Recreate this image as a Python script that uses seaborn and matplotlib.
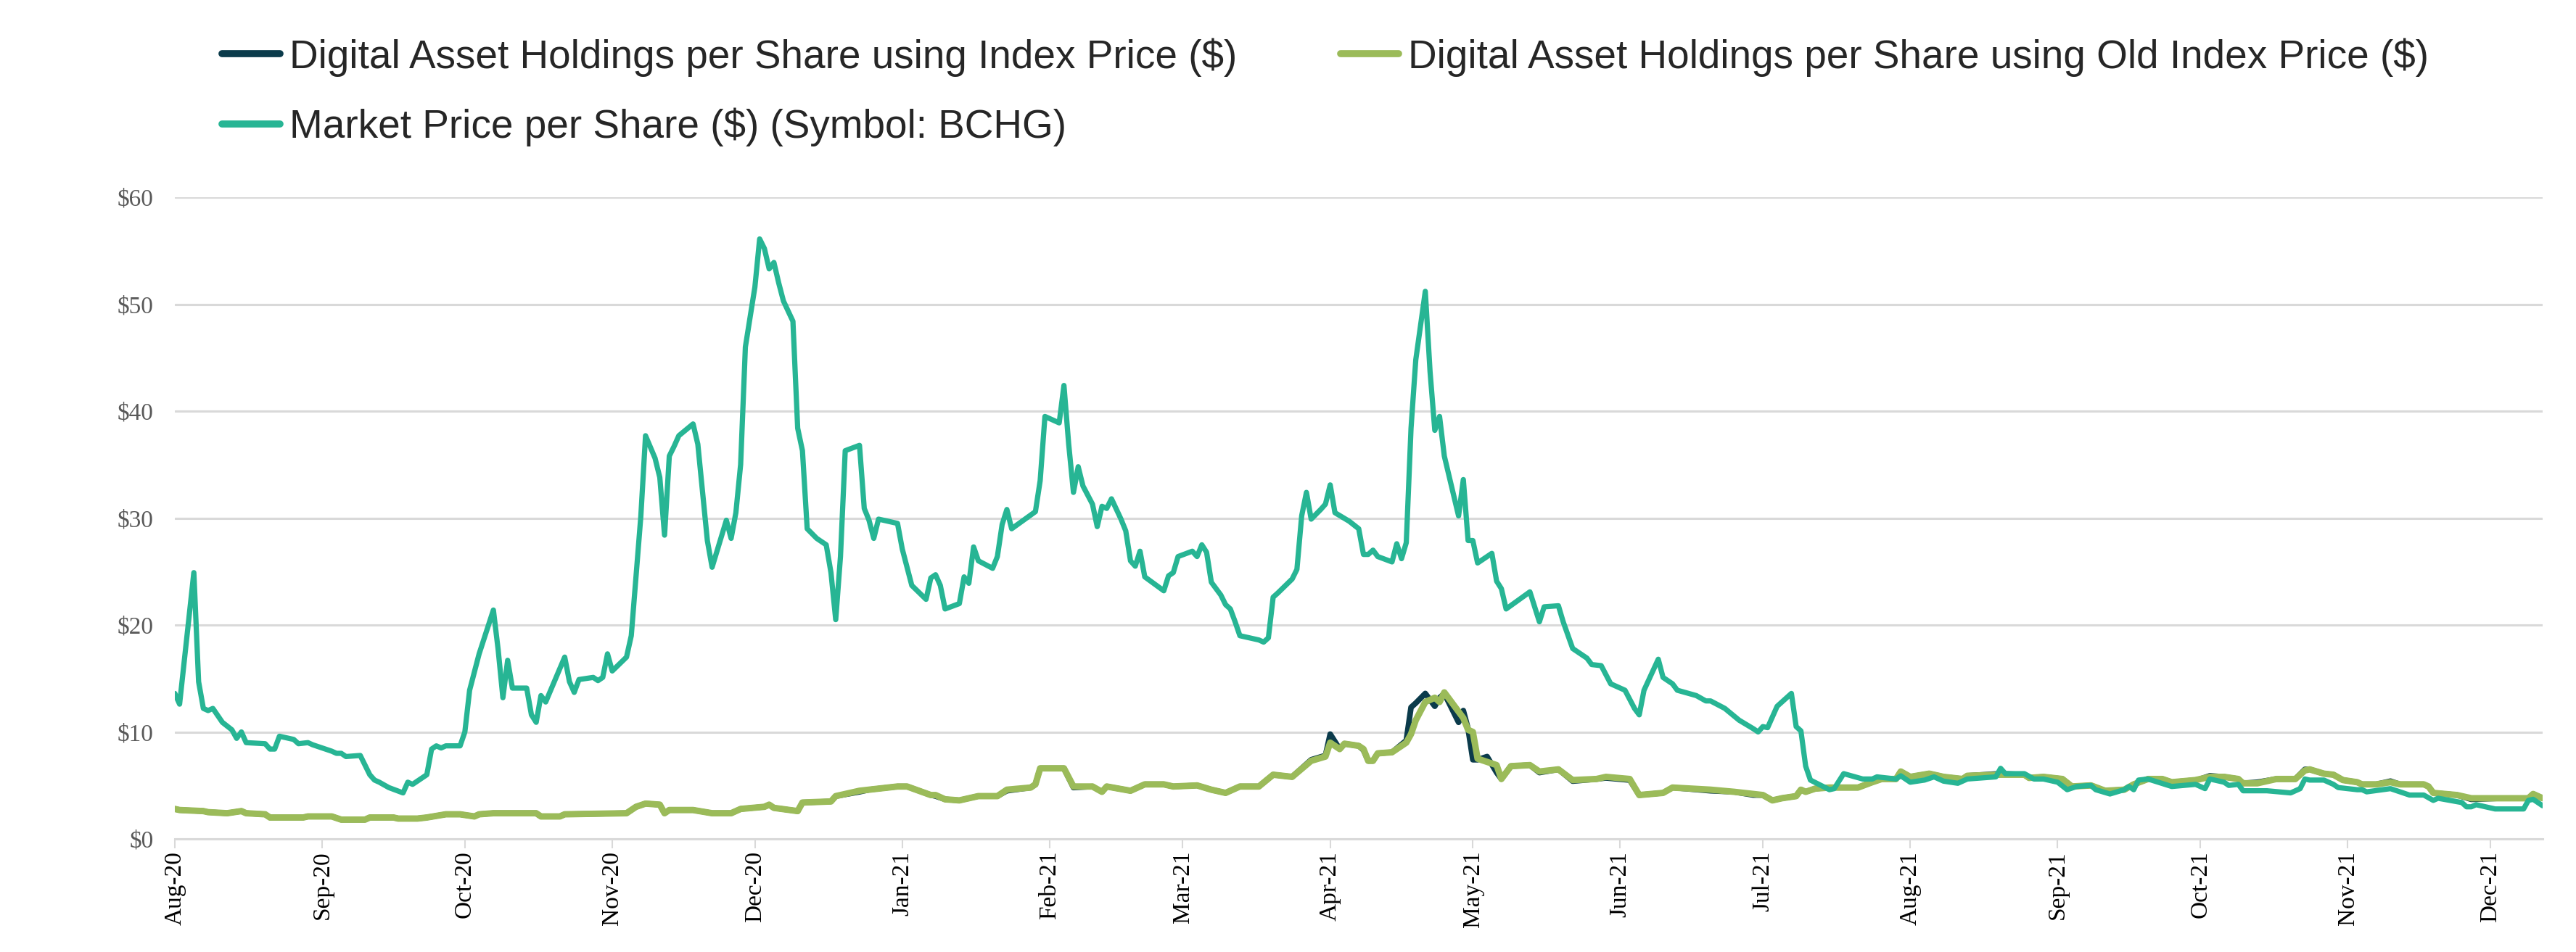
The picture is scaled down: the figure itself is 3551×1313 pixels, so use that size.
import matplotlib

matplotlib.use("Agg")
import matplotlib.dates as mdates  # noqa: E402
import matplotlib.pyplot as plt  # noqa: E402
import pandas as pd  # noqa: E402
import seaborn as sns  # noqa: E402
from matplotlib.ticker import FuncFormatter, MultipleLocator  # noqa: E402

# ---- data (date, $ per share) ------------------------------------------------
market_price = [
    ("2020-08-01", 13.6), ("2020-08-02", 12.6), ("2020-08-05", 24.9), ("2020-08-06", 14.7),
    ("2020-08-07", 12.2), ("2020-08-08", 12.0), ("2020-08-09", 12.2), ("2020-08-11", 10.9),
    ("2020-08-13", 10.2), ("2020-08-14", 9.4), ("2020-08-15", 10.0), ("2020-08-16", 9.0),
    ("2020-08-20", 8.9), ("2020-08-21", 8.4), ("2020-08-22", 8.4), ("2020-08-23", 9.6),
    ("2020-08-26", 9.3), ("2020-08-27", 8.9), ("2020-08-29", 9.0), ("2020-08-30", 8.8),
    ("2020-09-03", 8.2), ("2020-09-04", 8.0), ("2020-09-05", 8.0), ("2020-09-06", 7.7),
    ("2020-09-09", 7.8), ("2020-09-11", 6.0), ("2020-09-12", 5.5), ("2020-09-13", 5.3),
    ("2020-09-15", 4.8), ("2020-09-18", 4.3), ("2020-09-19", 5.3), ("2020-09-20", 5.1),
    ("2020-09-23", 6.0), ("2020-09-24", 8.4), ("2020-09-25", 8.7), ("2020-09-26", 8.5),
    ("2020-09-27", 8.7), ("2020-09-30", 8.7), ("2020-10-01", 10.0), ("2020-10-02", 13.9),
    ("2020-10-04", 17.3), ("2020-10-07", 21.4), ("2020-10-08", 17.7), ("2020-10-09", 13.2),
    ("2020-10-10", 16.7), ("2020-10-11", 14.1), ("2020-10-14", 14.1), ("2020-10-15", 11.6),
    ("2020-10-16", 10.9), ("2020-10-17", 13.4), ("2020-10-18", 12.8), ("2020-10-22", 17.0),
    ("2020-10-23", 14.7), ("2020-10-24", 13.7), ("2020-10-25", 14.9), ("2020-10-28", 15.1),
    ("2020-10-29", 14.8), ("2020-10-30", 15.1), ("2020-10-31", 17.3), ("2020-11-01", 15.7),
    ("2020-11-04", 17.0), ("2020-11-05", 19.0), ("2020-11-07", 30.1), ("2020-11-08", 37.7),
    ("2020-11-10", 35.6), ("2020-11-11", 33.8), ("2020-11-12", 28.4), ("2020-11-13", 35.8),
    ("2020-11-14", 36.7), ("2020-11-15", 37.7), ("2020-11-18", 38.8), ("2020-11-19", 36.9),
    ("2020-11-20", 32.4), ("2020-11-21", 27.9), ("2020-11-22", 25.4), ("2020-11-25", 29.8),
    ("2020-11-26", 28.1), ("2020-11-27", 30.5), ("2020-11-28", 35.0), ("2020-11-29", 46.0),
    ("2020-12-01", 51.6), ("2020-12-02", 56.1), ("2020-12-03", 55.2), ("2020-12-04", 53.3),
    ("2020-12-05", 53.9), ("2020-12-06", 52.0), ("2020-12-07", 50.3), ("2020-12-09", 48.4),
    ("2020-12-10", 38.4), ("2020-12-11", 36.3), ("2020-12-12", 29.0), ("2020-12-14", 28.1),
    ("2020-12-16", 27.5), ("2020-12-17", 24.9), ("2020-12-18", 20.5), ("2020-12-19", 26.4),
    ("2020-12-20", 36.3), ("2020-12-23", 36.8), ("2020-12-24", 30.9), ("2020-12-25", 29.8),
    ("2020-12-26", 28.1), ("2020-12-27", 29.9), ("2020-12-31", 29.5), ("2021-01-01", 27.1),
    ("2021-01-03", 23.7), ("2021-01-06", 22.4), ("2021-01-07", 24.4), ("2021-01-08", 24.7),
    ("2021-01-09", 23.7), ("2021-01-10", 21.5), ("2021-01-13", 22.0), ("2021-01-14", 24.5),
    ("2021-01-15", 23.9), ("2021-01-16", 27.3), ("2021-01-17", 26.0), ("2021-01-20", 25.3),
    ("2021-01-21", 26.4), ("2021-01-22", 29.4), ("2021-01-23", 30.8), ("2021-01-24", 29.0),
    ("2021-01-29", 30.6), ("2021-01-30", 33.5), ("2021-01-31", 39.5), ("2021-02-03", 38.9),
    ("2021-02-04", 42.4), ("2021-02-05", 36.9), ("2021-02-06", 32.4), ("2021-02-07", 34.8),
    ("2021-02-08", 33.0), ("2021-02-10", 31.3), ("2021-02-11", 29.2), ("2021-02-12", 31.1),
    ("2021-02-13", 30.9), ("2021-02-14", 31.8), ("2021-02-16", 29.9), ("2021-02-17", 28.8),
    ("2021-02-18", 26.0), ("2021-02-19", 25.5), ("2021-02-20", 26.9), ("2021-02-21", 24.5),
    ("2021-02-25", 23.2), ("2021-02-26", 24.6), ("2021-02-27", 24.9), ("2021-02-28", 26.4),
    ("2021-03-03", 26.9), ("2021-03-04", 26.4), ("2021-03-05", 27.5), ("2021-03-06", 26.8),
    ("2021-03-07", 24.0), ("2021-03-09", 22.8), ("2021-03-10", 21.9), ("2021-03-11", 21.5),
    ("2021-03-12", 20.3), ("2021-03-13", 19.0), ("2021-03-17", 18.6), ("2021-03-18", 18.4),
    ("2021-03-19", 18.8), ("2021-03-20", 22.6), ("2021-03-21", 23.0), ("2021-03-24", 24.3),
    ("2021-03-25", 25.2), ("2021-03-26", 30.2), ("2021-03-27", 32.4), ("2021-03-28", 29.9),
    ("2021-03-30", 30.8), ("2021-03-31", 31.3), ("2021-04-01", 33.1), ("2021-04-02", 30.5),
    ("2021-04-05", 29.7), ("2021-04-07", 29.0), ("2021-04-08", 26.6), ("2021-04-09", 26.6),
    ("2021-04-10", 27.0), ("2021-04-11", 26.4), ("2021-04-14", 25.9), ("2021-04-15", 27.6),
    ("2021-04-16", 26.2), ("2021-04-17", 27.7), ("2021-04-18", 38.4), ("2021-04-19", 44.8),
    ("2021-04-21", 51.2), ("2021-04-22", 43.7), ("2021-04-23", 38.2), ("2021-04-24", 39.5),
    ("2021-04-25", 35.8), ("2021-04-28", 30.2), ("2021-04-29", 33.6), ("2021-04-30", 27.9),
    ("2021-05-01", 27.9), ("2021-05-02", 25.8), ("2021-05-05", 26.7), ("2021-05-06", 24.1),
    ("2021-05-07", 23.4), ("2021-05-08", 21.5), ("2021-05-13", 23.1), ("2021-05-15", 20.3),
    ("2021-05-16", 21.7), ("2021-05-19", 21.8), ("2021-05-20", 20.3), ("2021-05-22", 17.8),
    ("2021-05-25", 16.9), ("2021-05-26", 16.3), ("2021-05-28", 16.2), ("2021-05-30", 14.5),
    ("2021-06-02", 13.9), ("2021-06-04", 12.2), ("2021-06-05", 11.6), ("2021-06-06", 13.9),
    ("2021-06-09", 16.8), ("2021-06-10", 15.1), ("2021-06-12", 14.5), ("2021-06-13", 13.9),
    ("2021-06-17", 13.4), ("2021-06-19", 12.9), ("2021-06-20", 12.9), ("2021-06-23", 12.2),
    ("2021-06-26", 11.1), ("2021-06-29", 10.3), ("2021-06-30", 10.0), ("2021-07-01", 10.5),
    ("2021-07-02", 10.4), ("2021-07-04", 12.4), ("2021-07-07", 13.6), ("2021-07-08", 10.5),
    ("2021-07-09", 10.1), ("2021-07-10", 6.8), ("2021-07-11", 5.5), ("2021-07-15", 4.6),
    ("2021-07-16", 4.7), ("2021-07-18", 6.1), ("2021-07-22", 5.6), ("2021-07-24", 5.6),
    ("2021-07-25", 5.8), ("2021-07-29", 5.6), ("2021-07-30", 5.9), ("2021-08-01", 5.3),
    ("2021-08-04", 5.5), ("2021-08-06", 5.8), ("2021-08-08", 5.4), ("2021-08-11", 5.2),
    ("2021-08-13", 5.6), ("2021-08-19", 5.8), ("2021-08-20", 6.6), ("2021-08-21", 6.1),
    ("2021-08-25", 6.1), ("2021-08-27", 5.6), ("2021-08-29", 5.6), ("2021-09-01", 5.3),
    ("2021-09-03", 4.6), ("2021-09-05", 4.9), ("2021-09-08", 5.0), ("2021-09-09", 4.6),
    ("2021-09-12", 4.2), ("2021-09-15", 4.6), ("2021-09-16", 4.9), ("2021-09-17", 4.6),
    ("2021-09-18", 5.5), ("2021-09-20", 5.6), ("2021-09-25", 4.9), ("2021-09-30", 5.1),
    ("2021-10-02", 4.7), ("2021-10-03", 5.6), ("2021-10-06", 5.3), ("2021-10-07", 5.0),
    ("2021-10-09", 5.1), ("2021-10-10", 4.5), ("2021-10-15", 4.5), ("2021-10-20", 4.3),
    ("2021-10-22", 4.7), ("2021-10-23", 5.6), ("2021-10-24", 5.5), ("2021-10-27", 5.5),
    ("2021-10-29", 5.1), ("2021-10-30", 4.8), ("2021-11-03", 4.6), ("2021-11-04", 4.6),
    ("2021-11-05", 4.4), ("2021-11-10", 4.7), ("2021-11-14", 4.1), ("2021-11-17", 4.1),
    ("2021-11-19", 3.6), ("2021-11-20", 3.8), ("2021-11-25", 3.4), ("2021-11-26", 3.0),
    ("2021-11-27", 3.0), ("2021-11-28", 3.2), ("2021-12-02", 2.8), ("2021-12-08", 2.8),
    ("2021-12-09", 3.6), ("2021-12-10", 3.7), ("2021-12-12", 3.1),
]

old_index_nav = [
    ("2020-08-01", 2.8), ("2020-08-02", 2.7), ("2020-08-07", 2.6), ("2020-08-08", 2.5),
    ("2020-08-12", 2.4), ("2020-08-15", 2.6), ("2020-08-16", 2.4), ("2020-08-20", 2.3),
    ("2020-08-21", 2.0), ("2020-08-28", 2.0), ("2020-08-29", 2.1), ("2020-09-03", 2.1),
    ("2020-09-05", 1.8), ("2020-09-10", 1.8), ("2020-09-11", 2.0), ("2020-09-16", 2.0),
    ("2020-09-17", 1.9), ("2020-09-21", 1.9), ("2020-09-23", 2.0), ("2020-09-27", 2.3),
    ("2020-09-30", 2.3), ("2020-10-03", 2.1), ("2020-10-04", 2.3), ("2020-10-07", 2.4),
    ("2020-10-16", 2.4), ("2020-10-17", 2.1), ("2020-10-21", 2.1), ("2020-10-22", 2.3),
    ("2020-11-04", 2.4), ("2020-11-06", 3.0), ("2020-11-08", 3.3), ("2020-11-11", 3.2),
    ("2020-11-12", 2.4), ("2020-11-13", 2.7), ("2020-11-18", 2.7), ("2020-11-22", 2.4),
    ("2020-11-26", 2.4), ("2020-11-28", 2.8), ("2020-12-03", 3.0), ("2020-12-04", 3.2),
    ("2020-12-05", 2.9), ("2020-12-10", 2.6), ("2020-12-11", 3.4), ("2020-12-17", 3.5),
    ("2020-12-18", 4.0), ("2020-12-23", 4.5), ("2020-12-25", 4.6), ("2020-12-31", 4.9),
    ("2021-01-02", 4.9), ("2021-01-07", 4.1), ("2021-01-08", 4.1), ("2021-01-10", 3.7),
    ("2021-01-13", 3.6), ("2021-01-17", 4.0), ("2021-01-21", 4.0), ("2021-01-23", 4.6),
    ("2021-01-28", 4.8), ("2021-01-29", 5.1), ("2021-01-30", 6.6), ("2021-02-04", 6.6),
    ("2021-02-06", 4.9), ("2021-02-10", 4.9), ("2021-02-12", 4.4), ("2021-02-13", 4.9),
    ("2021-02-18", 4.5), ("2021-02-21", 5.1), ("2021-02-25", 5.1), ("2021-02-27", 4.9),
    ("2021-03-04", 5.0), ("2021-03-07", 4.6), ("2021-03-10", 4.3), ("2021-03-13", 4.9),
    ("2021-03-17", 4.9), ("2021-03-20", 6.0), ("2021-03-24", 5.8), ("2021-03-28", 7.3),
    ("2021-03-31", 7.7), ("2021-04-01", 9.0), ("2021-04-03", 8.4), ("2021-04-04", 8.9),
    ("2021-04-07", 8.7), ("2021-04-08", 8.4), ("2021-04-09", 7.3), ("2021-04-10", 7.3),
    ("2021-04-11", 8.0), ("2021-04-14", 8.1), ("2021-04-17", 9.0), ("2021-04-18", 9.8),
    ("2021-04-19", 11.1), ("2021-04-21", 12.8), ("2021-04-23", 13.2), ("2021-04-24", 12.8),
    ("2021-04-25", 13.7), ("2021-04-29", 11.3), ("2021-04-30", 10.2), ("2021-05-01", 10.0),
    ("2021-05-02", 7.5), ("2021-05-06", 6.9), ("2021-05-07", 5.6), ("2021-05-09", 6.8),
    ("2021-05-13", 6.9), ("2021-05-15", 6.3), ("2021-05-19", 6.5), ("2021-05-22", 5.5),
    ("2021-05-27", 5.6), ("2021-05-29", 5.8), ("2021-06-03", 5.6), ("2021-06-05", 4.1),
    ("2021-06-10", 4.3), ("2021-06-12", 4.8), ("2021-06-20", 4.6), ("2021-06-25", 4.4),
    ("2021-06-29", 4.2), ("2021-07-01", 4.1), ("2021-07-03", 3.6), ("2021-07-05", 3.8),
    ("2021-07-08", 4.0), ("2021-07-09", 4.6), ("2021-07-10", 4.4), ("2021-07-12", 4.7),
    ("2021-07-15", 4.8), ("2021-07-21", 4.8), ("2021-07-24", 5.3), ("2021-07-26", 5.6),
    ("2021-07-29", 5.6), ("2021-07-30", 6.3), ("2021-08-01", 5.8), ("2021-08-05", 6.1),
    ("2021-08-08", 5.8), ("2021-08-12", 5.6), ("2021-08-13", 5.9), ("2021-08-20", 6.0),
    ("2021-08-25", 6.0), ("2021-08-26", 5.7), ("2021-08-29", 5.8), ("2021-09-02", 5.6),
    ("2021-09-04", 4.9), ("2021-09-08", 5.0), ("2021-09-11", 4.5), ("2021-09-15", 4.6),
    ("2021-09-17", 5.1), ("2021-09-20", 5.6), ("2021-09-23", 5.6), ("2021-09-25", 5.3),
    ("2021-09-30", 5.5), ("2021-10-01", 5.6), ("2021-10-03", 5.8), ("2021-10-06", 5.8),
    ("2021-10-09", 5.6), ("2021-10-10", 5.2), ("2021-10-13", 5.2), ("2021-10-17", 5.6),
    ("2021-10-21", 5.6), ("2021-10-23", 6.4), ("2021-10-24", 6.5), ("2021-10-27", 6.1),
    ("2021-10-29", 6.0), ("2021-10-31", 5.5), ("2021-11-03", 5.3), ("2021-11-04", 5.1),
    ("2021-11-07", 5.1), ("2021-11-10", 5.3), ("2021-11-12", 5.1), ("2021-11-17", 5.1),
    ("2021-11-18", 4.9), ("2021-11-19", 4.3), ("2021-11-24", 4.1), ("2021-11-27", 3.8),
    ("2021-12-03", 3.8), ("2021-12-09", 3.8), ("2021-12-10", 4.2), ("2021-12-12", 3.8),
]

index_nav = [
    ("2020-08-01", 2.8), ("2020-08-02", 2.7), ("2020-08-07", 2.6), ("2020-08-08", 2.5),
    ("2020-08-12", 2.4), ("2020-08-15", 2.6), ("2020-08-16", 2.4), ("2020-08-20", 2.3),
    ("2020-08-21", 2.0), ("2020-08-28", 2.0), ("2020-08-29", 2.1), ("2020-09-03", 2.1),
    ("2020-09-05", 1.8), ("2020-09-10", 1.8), ("2020-09-11", 2.0), ("2020-09-16", 2.0),
    ("2020-09-17", 1.9), ("2020-09-21", 1.9), ("2020-09-23", 2.0), ("2020-09-27", 2.3),
    ("2020-09-30", 2.3), ("2020-10-03", 2.1), ("2020-10-04", 2.3), ("2020-10-07", 2.4),
    ("2020-10-16", 2.4), ("2020-10-17", 2.1), ("2020-10-21", 2.1), ("2020-10-22", 2.3),
    ("2020-11-04", 2.4), ("2020-11-06", 3.0), ("2020-11-08", 3.3), ("2020-11-11", 3.2),
    ("2020-11-12", 2.4), ("2020-11-13", 2.7), ("2020-11-18", 2.7), ("2020-11-22", 2.4),
    ("2020-11-26", 2.4), ("2020-11-28", 2.8), ("2020-12-03", 3.0), ("2020-12-04", 3.2),
    ("2020-12-05", 2.9), ("2020-12-10", 2.6), ("2020-12-11", 3.4), ("2020-12-17", 3.5),
    ("2020-12-18", 4.0), ("2020-12-23", 4.4), ("2020-12-25", 4.6), ("2020-12-31", 4.9),
    ("2021-01-02", 4.9), ("2021-01-07", 4.1), ("2021-01-08", 4.0), ("2021-01-10", 3.7),
    ("2021-01-13", 3.6), ("2021-01-17", 4.0), ("2021-01-21", 4.0), ("2021-01-23", 4.5),
    ("2021-01-28", 4.8), ("2021-01-29", 5.1), ("2021-01-30", 6.6), ("2021-02-04", 6.6),
    ("2021-02-06", 4.8), ("2021-02-10", 4.9), ("2021-02-12", 4.4), ("2021-02-13", 4.9),
    ("2021-02-18", 4.5), ("2021-02-21", 5.1), ("2021-02-25", 5.1), ("2021-02-27", 4.9),
    ("2021-03-04", 5.0), ("2021-03-07", 4.6), ("2021-03-10", 4.3), ("2021-03-13", 4.9),
    ("2021-03-17", 4.9), ("2021-03-20", 6.0), ("2021-03-24", 5.8), ("2021-03-28", 7.4),
    ("2021-03-31", 7.8), ("2021-04-01", 9.8), ("2021-04-03", 8.4), ("2021-04-04", 8.9),
    ("2021-04-07", 8.7), ("2021-04-08", 8.3), ("2021-04-09", 7.3), ("2021-04-10", 7.3),
    ("2021-04-11", 8.0), ("2021-04-14", 8.1), ("2021-04-17", 9.2), ("2021-04-18", 12.3),
    ("2021-04-19", 12.7), ("2021-04-21", 13.6), ("2021-04-23", 12.4), ("2021-04-24", 13.2),
    ("2021-04-25", 13.6), ("2021-04-28", 10.9), ("2021-04-29", 12.0), ("2021-04-30", 10.3),
    ("2021-05-01", 7.4), ("2021-05-02", 7.4), ("2021-05-04", 7.7), ("2021-05-06", 6.2),
    ("2021-05-07", 5.6), ("2021-05-09", 6.8), ("2021-05-13", 6.9), ("2021-05-15", 6.2),
    ("2021-05-19", 6.5), ("2021-05-22", 5.4), ("2021-05-27", 5.6), ("2021-05-29", 5.7),
    ("2021-06-03", 5.5), ("2021-06-05", 4.1), ("2021-06-10", 4.3), ("2021-06-12", 4.8),
    ("2021-06-20", 4.5), ("2021-06-25", 4.4), ("2021-06-29", 4.1), ("2021-07-01", 4.1),
    ("2021-07-03", 3.6), ("2021-07-05", 3.8), ("2021-07-08", 4.0), ("2021-07-09", 4.6),
    ("2021-07-10", 4.4), ("2021-07-12", 4.7), ("2021-07-15", 4.8), ("2021-07-21", 4.8),
    ("2021-07-24", 5.3), ("2021-07-26", 5.6), ("2021-07-29", 5.6), ("2021-07-30", 6.3),
    ("2021-08-01", 5.8), ("2021-08-05", 6.1), ("2021-08-08", 5.8), ("2021-08-12", 5.6),
    ("2021-08-13", 5.9), ("2021-08-20", 6.1), ("2021-08-25", 6.0), ("2021-08-26", 5.7),
    ("2021-08-29", 5.8), ("2021-09-02", 5.6), ("2021-09-04", 4.9), ("2021-09-08", 5.0),
    ("2021-09-11", 4.5), ("2021-09-15", 4.6), ("2021-09-17", 5.1), ("2021-09-20", 5.6),
    ("2021-09-23", 5.6), ("2021-09-25", 5.3), ("2021-09-30", 5.5), ("2021-10-01", 5.6),
    ("2021-10-03", 5.9), ("2021-10-06", 5.8), ("2021-10-09", 5.6), ("2021-10-10", 5.2),
    ("2021-10-13", 5.3), ("2021-10-17", 5.6), ("2021-10-21", 5.6), ("2021-10-23", 6.5),
    ("2021-10-24", 6.5), ("2021-10-27", 6.1), ("2021-10-29", 6.0), ("2021-10-31", 5.5),
    ("2021-11-03", 5.3), ("2021-11-04", 5.1), ("2021-11-07", 5.1), ("2021-11-10", 5.4),
    ("2021-11-12", 5.1), ("2021-11-17", 5.1), ("2021-11-18", 4.9), ("2021-11-19", 4.3),
    ("2021-11-24", 4.1), ("2021-11-27", 3.7), ("2021-12-03", 3.8), ("2021-12-09", 3.8),
    ("2021-12-10", 4.2), ("2021-12-12", 3.8),
]

LABEL_INDEX = "Digital Asset Holdings per Share using Index Price ($)"
LABEL_OLD = "Digital Asset Holdings per Share using Old Index Price ($)"
LABEL_MKT = "Market Price per Share ($) (Symbol: BCHG)"

NAVY = "#0b3b4b"
LIME = "#9bbb59"
TEAL = "#27b594"
GRID = "#d9d9d9"

W, H = 3551, 1313


def frame(rows):
    df = pd.DataFrame(rows, columns=["date", "value"])
    df["date"] = pd.to_datetime(df["date"])
    return df


sns.set_style("white")
plt.rcParams["font.family"] = ["Liberation Sans", "DejaVu Sans"]

fig = plt.figure(figsize=(W / 100, H / 100), dpi=100)
ax = fig.add_axes([241 / W, 1 - 1157 / H, (3505 - 241) / W, (1157 - 272) / H])

sns.lineplot(data=frame(index_nav), x="date", y="value", ax=ax, color=NAVY,
             lw=5.6, label=LABEL_INDEX, solid_capstyle="round", solid_joinstyle="round")
sns.lineplot(data=frame(old_index_nav), x="date", y="value", ax=ax, color=LIME,
             lw=6.4, label=LABEL_OLD, solid_capstyle="round", solid_joinstyle="round")
sns.lineplot(data=frame(market_price), x="date", y="value", ax=ax, color=TEAL,
             lw=5.2, label=LABEL_MKT, solid_capstyle="round", solid_joinstyle="round")

ax.set_xlim(pd.Timestamp("2020-08-01"), pd.Timestamp("2021-12-12"))
ax.set_ylim(0, 60)
ax.set_xlabel("")
ax.set_ylabel("")

ax.yaxis.set_major_locator(MultipleLocator(10))
ax.yaxis.set_major_formatter(FuncFormatter(lambda v, _: f"${v:.0f}"))
ax.xaxis.set_major_locator(mdates.MonthLocator())
ax.xaxis.set_major_formatter(mdates.DateFormatter("%b-%y"))

ax.set_axisbelow(True)
ax.yaxis.grid(True, color=GRID, lw=2.2)
ax.xaxis.grid(False)
for side in ["top", "right", "left"]:
    ax.spines[side].set_visible(False)
ax.spines["bottom"].set_color(GRID)
ax.spines["bottom"].set_linewidth(2.2)

ax.tick_params(axis="x", length=9, width=1.5, color=GRID, pad=3, labelsize=24,
               labelrotation=90, labelcolor="black", bottom=True)
ax.tick_params(axis="y", length=0, pad=21, labelsize=24, labelcolor="#595959")
for t in ax.get_xticklabels() + ax.get_yticklabels():
    t.set_fontfamily(["Liberation Serif", "DejaVu Serif"])

handles, labels = ax.get_legend_handles_labels()
ax.get_legend().remove()
order = [0, 2, 1]  # row-major: index, old index / market
leg = fig.legend([handles[i] for i in order], [labels[i] for i in order],
                 loc="upper left", bbox_to_anchor=(306 / W, 1 - 52 / H), ncol=2,
                 frameon=False, fontsize=39.5, handlelength=1.45, handletextpad=0.25,
                 columnspacing=2.6, labelspacing=0.78, borderpad=0, borderaxespad=0)
for ln in leg.get_lines():
    ln.set_linewidth(7)
    ln.set_solid_capstyle("round")

fig.savefig("out.png", dpi=100)
